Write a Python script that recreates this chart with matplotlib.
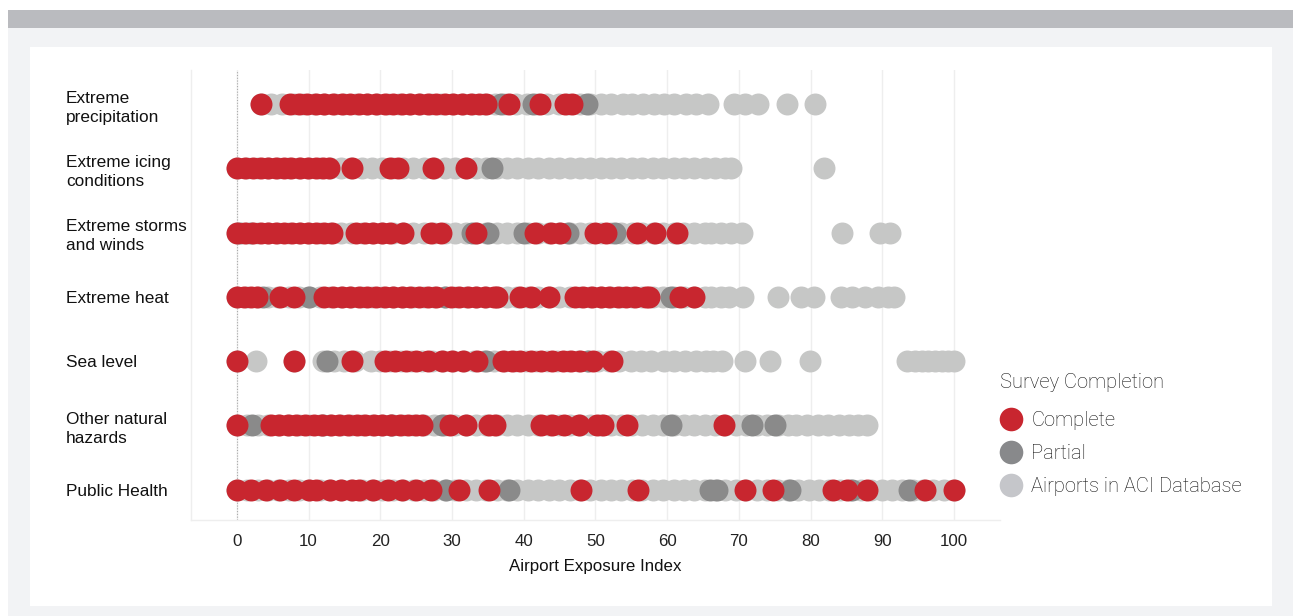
import matplotlib
matplotlib.use("Agg")
import matplotlib.pyplot as plt
from matplotlib.patches import Rectangle
from matplotlib.lines import Line2D

categories = ["Extreme\nprecipitation", "Extreme icing\nconditions", "Extreme storms\nand winds",
              "Extreme heat", "Sea level", "Other natural\nhazards", "Public Health"]

prec_gray = [3.4, 4.8, 6.3, 7.9, 9.2, 10.8, 12.1, 13.7, 15.0, 16.6, 18.1, 19.5, 21.0, 22.6, 24.0,
             25.5, 27.1, 28.4, 30.0, 31.5, 32.9, 34.4, 36.0, 37.4, 38.9, 40.5, 41.8, 43.3, 44.9, 46.2,
             47.8, 49.3, 50.7, 52.2, 53.8, 55.1, 56.6, 58.2, 59.5, 61.0, 62.6, 64.0, 65.7, 69.3, 70.9,
             72.6, 76.7, 80.6]
prec_partial = [36.8, 41.3, 48.8]
prec_complete = [3.3, 7.4, 8.6, 9.8, 11.0, 12.2, 13.4, 14.6, 15.8, 17.0, 18.2, 19.4, 20.6, 21.8,
                 23.0, 24.2, 25.4, 26.6, 27.8, 29.0, 30.2, 31.4, 32.6, 33.8, 34.8, 37.9, 42.3, 45.8, 46.7]

icing_gray = [0.0, 1.4, 2.9, 4.3, 5.8, 7.2, 8.7, 10.1, 11.6, 13.0, 14.5, 15.9, 17.4, 18.8, 20.3,
              21.7, 23.2, 24.6, 26.1, 27.5, 29.0, 30.4, 31.9, 33.3, 34.8, 36.2, 37.7, 39.1, 40.6, 42.0,
              43.5, 44.9, 46.4, 47.8, 49.3, 50.7, 52.2, 53.6, 55.1, 56.5, 58.0, 59.4, 60.9, 62.3, 63.8,
              65.2, 66.7, 68.1, 68.9, 81.9]
icing_partial = [35.6]
icing_complete = [0.0, 1.1, 2.2, 3.3, 4.4, 5.5, 6.6, 7.6, 8.8, 9.9, 11.0, 12.0, 12.8, 16.0, 21.4,
                  22.4, 27.4, 32.0]

storms_gray = [0.0, 1.4, 2.9, 4.3, 5.8, 7.2, 8.7, 10.1, 11.6, 13.0, 14.5, 15.9, 17.4, 18.8, 20.3,
               21.7, 23.2, 24.6, 26.1, 27.5, 29.0, 30.4, 31.9, 33.3, 34.8, 36.2, 37.7, 39.1, 40.6, 42.0,
               43.5, 44.9, 46.4, 47.8, 49.3, 50.7, 52.2, 53.6, 55.1, 56.5, 58.0, 59.4, 60.9, 62.3, 63.8,
               65.2, 66.1, 67.5, 68.9, 70.4, 84.4, 89.7, 91.0]
storms_partial = [0.5, 2.0, 32.8, 35.0, 40.0, 46.2, 52.7]
storms_complete = [0.0, 1.1, 2.2, 3.3, 4.4, 5.5, 6.6, 7.7, 8.8, 9.9, 11.0, 12.2, 13.3, 16.6, 17.8,
                   19.0, 20.2, 21.4, 23.2, 27.0, 28.5, 33.4, 41.5, 43.8, 45.0, 49.9, 51.5, 55.8, 58.3, 61.3]

heat_gray = [0.0, 1.4, 2.9, 4.3, 5.8, 7.2, 8.7, 10.1, 11.6, 13.0, 14.5, 15.9, 17.4, 18.8, 20.3,
             21.7, 23.2, 24.6, 26.1, 27.5, 29.0, 30.4, 31.9, 33.3, 34.8, 36.2, 37.7, 39.1, 40.6, 42.0,
             43.5, 44.9, 46.4, 47.8, 49.3, 50.7, 52.2, 53.6, 55.1, 56.5, 58.0, 59.4, 60.9, 62.3, 63.8,
             65.2, 66.1, 67.5, 68.6, 70.5, 75.5, 78.6, 80.4, 84.2, 85.7, 87.6, 89.4, 90.8, 91.6]
heat_partial = [3.6, 10.0, 29.0, 60.5]
heat_complete = [0.0, 1.0, 2.0, 2.8, 6.0, 7.9, 12.2, 13.4, 14.6, 15.8, 17.0, 18.2, 19.4, 20.6, 21.8,
                 23.0, 24.2, 25.4, 26.6, 27.8, 29.8, 31.0, 32.2, 33.4, 34.6, 35.8, 36.3, 39.5, 41.0,
                 43.5, 47.1, 48.3, 49.5, 50.7, 51.9, 53.1, 54.3, 55.5, 57.0, 57.5, 61.8, 63.8]

sea_gray = [0.0, 2.6, 7.9, 12.0, 13.6, 15.0, 16.5, 18.7, 20.0, 21.4, 22.9, 24.3, 25.8, 27.2, 28.7,
            30.1, 31.6, 33.0, 34.5, 35.9, 37.4, 38.8, 40.3, 41.7, 43.2, 44.6, 46.1, 47.5, 49.0, 50.4,
            51.9, 53.3, 54.9, 56.3, 57.8, 59.5, 61.0, 62.5, 64.0, 65.4, 66.4, 67.7, 70.8, 74.3, 79.9,
            93.5, 94.5, 95.5, 96.4, 97.4, 98.3, 99.2, 100.0]
sea_partial = [12.6, 34.8, 49.0]
sea_complete = [0.0, 8.0, 16.0, 20.7, 22.0, 23.6, 25.0, 26.6, 28.6, 30.0, 31.5, 33.5, 37.1, 38.3,
                39.5, 41.0, 42.4, 43.9, 45.4, 46.6, 47.8, 49.6, 52.3]

other_gray = [0.0, 1.4, 2.9, 4.3, 5.8, 7.2, 8.7, 10.1, 11.6, 13.0, 14.5, 15.9, 17.4, 18.8, 20.3,
              21.7, 23.2, 24.6, 26.1, 27.5, 29.0, 30.4, 31.9, 33.3, 34.8, 36.2, 37.7, 39.1, 40.6, 42.0,
              43.5, 44.9, 46.4, 47.8, 49.3, 50.7, 52.2, 53.6, 55.1, 56.5, 58.0, 59.4, 60.9, 62.3, 63.8,
              65.2, 66.7, 68.1, 69.6, 71.0, 72.5, 73.9, 75.4, 76.8, 78.0, 79.5, 81.0, 82.4, 83.9, 85.3,
              86.6, 87.8]
other_partial = [2.1, 12.0, 21.5, 28.6, 60.5, 71.8, 75.0]
other_complete = [0.0, 4.7, 5.9, 7.1, 8.3, 9.5, 10.7, 11.9, 13.1, 14.3, 15.5, 16.7, 17.9, 19.1,
                  20.3, 21.5, 22.7, 23.9, 25.0, 25.8, 29.7, 32.0, 35.2, 36.0, 42.4, 44.0, 45.6, 47.7,
                  50.2, 51.0, 54.4, 67.9]

health_gray = [0.0, 1.4, 2.9, 4.3, 5.8, 7.2, 8.7, 10.1, 11.6, 13.0, 14.5, 15.9, 17.4, 18.8, 20.3,
               21.7, 23.2, 24.6, 26.1, 27.5, 29.0, 30.4, 31.9, 33.3, 34.8, 36.2, 37.7, 39.1, 40.6,
               42.0, 43.5, 44.9, 46.4, 47.8, 49.3, 50.7, 52.2, 53.6, 55.1, 56.5, 58.0, 59.4, 60.9,
               62.3, 63.8, 65.2, 66.7, 68.1, 69.6, 71.0, 72.5, 73.9, 75.4, 76.8, 78.3, 79.7, 81.2,
               82.6, 84.1, 85.5, 87.0, 88.4, 89.9, 91.3, 92.8, 94.2, 95.7, 97.1, 98.6, 100.0]
health_partial = [29.1, 37.9, 65.9, 66.9, 77.1, 85.8, 93.7]
health_complete = [0.0, 2.0, 4.0, 6.0, 8.0, 10.0, 11.0, 13.0, 14.5, 16.0, 17.0, 19.0, 21.0, 23.0,
                   25.0, 27.0, 31.0, 35.1, 48.0, 55.9, 70.8, 74.8, 83.1, 85.1, 87.9, 95.9, 100.0]

gray_sets = [prec_gray, icing_gray, storms_gray, heat_gray, sea_gray, other_gray, health_gray]
partial_sets = [prec_partial, icing_partial, storms_partial, heat_partial, sea_partial,
                other_partial, health_partial]
complete_sets = [prec_complete, icing_complete, storms_complete, heat_complete, sea_complete,
                 other_complete, health_complete]

xticks = [0, 10, 20, 30, 40, 50, 60, 70, 80, 90, 100]
legend_title = "Survey Completion"
legend_labels = ["Complete", "Partial", "Airports in ACI Database"]

C_COMPLETE = "#c8262f"
C_PARTIAL = "#8a8a8a"
C_GRAY = "#c6c7c6"
C_LEG = [C_COMPLETE, "#88898b", "#c5c6ca"]

W, H = 1293, 616
fig = plt.figure(figsize=(W / 100, H / 100), dpi=100)
fig.patch.set_facecolor("white")

def px_rect(x0, y0, x1, y1, color):
    fig.add_artist(Rectangle((x0 / W, 1 - y1 / H), (x1 - x0) / W, (y1 - y0) / H,
                             transform=fig.transFigure, facecolor=color, edgecolor="none", zorder=-10))

px_rect(8, 28, W, H, "#f2f3f5")
px_rect(8, 10, W, 28, "#babbbf")
px_rect(30, 47, 1272, 606, "white")

ax = fig.add_axes([191 / W, 1 - 520 / H, (1000 - 191) / W, (520 - 70) / H])
ax.set_facecolor("none")

S = 250
for i, vals in enumerate(gray_sets):
    ax.scatter(vals, [i] * len(vals), s=S, color=C_GRAY, linewidths=0, zorder=2)
for i, vals in enumerate(partial_sets):
    ax.scatter(vals, [i] * len(vals), s=S, color=C_PARTIAL, linewidths=0, zorder=3)
for i, vals in enumerate(complete_sets):
    ax.scatter(vals, [i] * len(vals), s=S, color=C_COMPLETE, linewidths=0, zorder=4)

FS = 12.4
ax.set_xlim(-6.4, 106.4)
ax.set_ylim(6.47, -0.53)
ax.set_xticks(xticks)
ax.set_xticklabels([str(t) for t in xticks], fontsize=12.2, family="Liberation Sans", color="#222222")
ax.set_yticks(range(len(categories)))
ax.set_yticklabels(categories, fontsize=FS, family="Liberation Sans", color="#111111",
                   ha="left", linespacing=1.35)
ax.tick_params(axis="y", length=0, pad=90)
ax.tick_params(axis="x", length=0, pad=10)
ax.grid(axis="x", color="#eeeeee", linewidth=1, zorder=0)
ax.set_axisbelow(True)
ax.axvline(0, color="#aaaaaa", linestyle=(0, (1, 1.5)), linewidth=0.8, zorder=1)
for s in ["top", "right"]:
    ax.spines[s].set_visible(False)
for s in ["left", "bottom"]:
    ax.spines[s].set_color("#eeeeee")
    ax.spines[s].set_linewidth(1)
ax.set_xlabel("Airport Exposure Index", fontsize=12.2, family="Liberation Sans", color="#111111",
              labelpad=7)

LEG_FONT = {"family": "Roboto", "weight": "light", "size": 14.5}
fig.text(1000 / W, 1 - 388 / H, legend_title, ha="left", va="baseline", color="#111111", **LEG_FONT)
handles = [Line2D([], [], linestyle="none", marker="o", markersize=17, markerfacecolor=c,
                  markeredgewidth=0) for c in C_LEG]
leg = fig.legend(handles, legend_labels, loc="upper left",
                 bbox_to_anchor=(990 / W, 1 - 403 / H), frameon=False,
                 prop=LEG_FONT, handletextpad=0.35, labelspacing=0.7, handlelength=1.3,
                 borderaxespad=0)
for t in leg.get_texts():
    t.set_color("#111111")

fig.savefig("out.png", dpi=100)
